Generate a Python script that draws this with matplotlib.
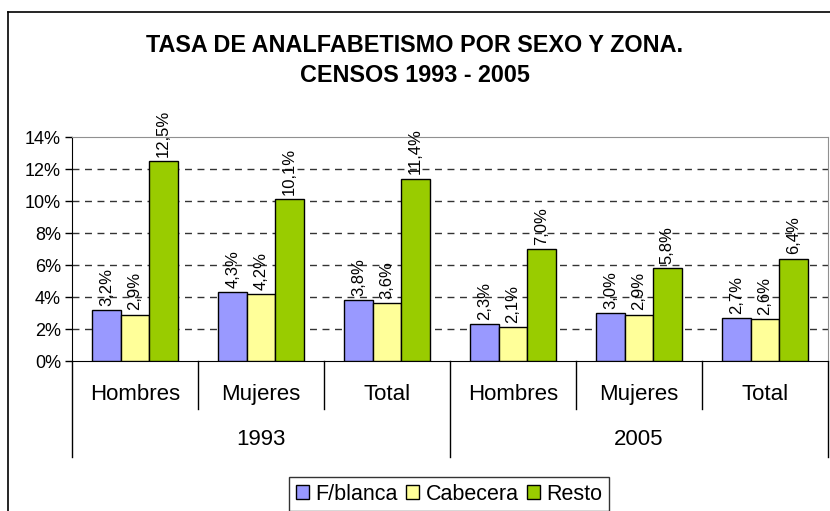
import numpy as np
import matplotlib.pyplot as plt
from matplotlib.patches import Patch
from matplotlib.lines import Line2D

plt.rcParams['font.family'] = ['Liberation Sans', 'DejaVu Sans']

# data
anios = ['1993', '2005']
grupos = ['Hombres', 'Mujeres', 'Total', 'Hombres', 'Mujeres', 'Total']
series = ['F/blanca', 'Cabecera', 'Resto']
fblanca = [3.2, 4.3, 3.8, 2.3, 3.0, 2.7]
cabecera = [2.9, 4.2, 3.6, 2.1, 2.9, 2.6]
resto = [12.5, 10.1, 11.4, 7.0, 5.8, 6.4]
colores = ['#9999FF', '#FFFF99', '#99CC00']

W, H = 830, 511
fig = plt.figure(figsize=(W / 100, H / 100), dpi=100)

def fx(px):
    return px / W

def fy(py):
    return 1 - py / H

# outer chart border (cut at the right and bottom)
fig.add_artist(Line2D([fx(8), fx(8)], [fy(12), 0], color='black', lw=1.2))
fig.add_artist(Line2D([fx(8), 1], [fy(12), fy(12)], color='black', lw=1.2))

left, right, top, bottom = 72, 828, 137, 361
ax = fig.add_axes([fx(left), fy(bottom), fx(right - left), (bottom - top) / H])

x = np.arange(len(grupos))
w = 0.225
for i, (vals, col) in enumerate(zip([fblanca, cabecera, resto], colores)):
    pos = x + (i - 1) * w
    bars = ax.bar(pos, vals, width=w, color=col, edgecolor='black', lw=1, zorder=3)
    for b, v in zip(bars, vals):
        ax.annotate(f'{v:.1f}%'.replace('.', ','),
                    (b.get_x() + b.get_width() / 2, v),
                    xytext=(0, 3), textcoords='offset points',
                    rotation=90, ha='center', va='bottom', fontsize=12,
                    annotation_clip=False, zorder=4)

ax.set_xlim(-0.5, len(grupos) - 0.5)
ax.set_ylim(0, 14)
ax.set_yticks(range(0, 15, 2))
ax.set_yticklabels([f'{t}%' for t in range(0, 15, 2)], fontsize=13)
ax.tick_params(axis='y', length=5, width=1, pad=3)
ax.set_xticks([])
for yv in range(2, 14, 2):
    ax.axhline(yv, color='#333333', lw=1, ls=(0, (5, 4)), zorder=1)
ax.spines['top'].set_color('#909090')
ax.spines['right'].set_color('#909090')
ax.spines['left'].set_color('black')
ax.spines['bottom'].set_color('black')

# category separators and labels below the axis
tr = ax.get_xaxis_transform()
for k in range(len(grupos) + 1):
    largo = -0.43 if k % 3 == 0 else -0.215
    ax.add_line(Line2D([k - 0.5, k - 0.5], [0, largo], transform=tr,
                       color='black', lw=1, clip_on=False))
for k, g in enumerate(grupos):
    ax.text(k, -0.15, g, transform=tr, ha='center', va='center', fontsize=16)
for j, a in enumerate(anios):
    ax.text(j * 3 + 1, -0.35, a, transform=tr, ha='center', va='center', fontsize=16)

fig.text(0.5, fy(46), 'TASA DE ANALFABETISMO POR SEXO Y ZONA.', ha='center',
         va='center', fontsize=16.8, fontweight='bold')
fig.text(0.5, fy(75), 'CENSOS 1993 - 2005', ha='center', va='center',
         fontsize=16.8, fontweight='bold')

handles = [Patch(facecolor=c, edgecolor='black', label=s) for c, s in zip(colores, series)]
leg = fig.legend(handles=handles, ncol=3, loc='center', bbox_to_anchor=(fx(449), fy(494)),
                 fontsize=15.5, frameon=True, fancybox=False, handlelength=0.6,
                 handleheight=0.6, handletextpad=0.3, columnspacing=0.4,
                 borderpad=0.3, borderaxespad=0)
leg.get_frame().set_edgecolor('black')
leg.get_frame().set_linewidth(1)

plt.savefig('out.png', dpi=100)
